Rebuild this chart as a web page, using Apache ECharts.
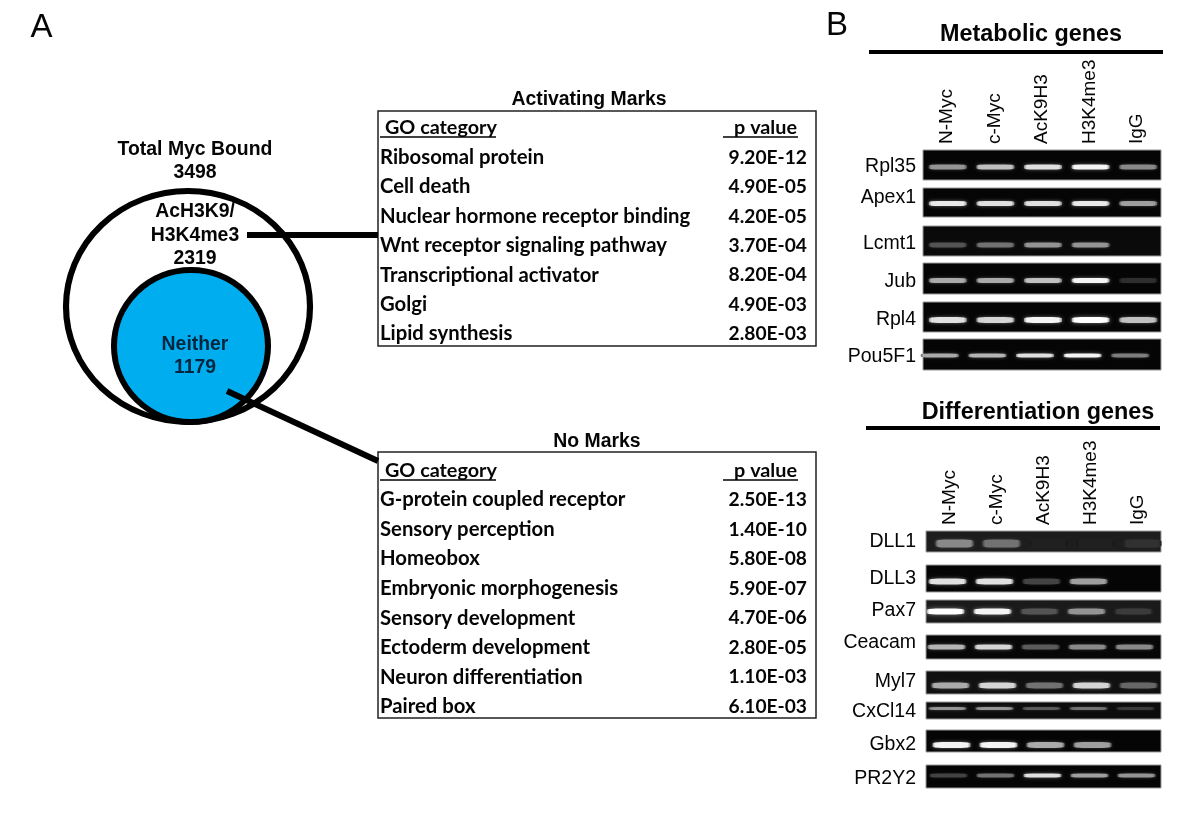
<!DOCTYPE html>
<html><head><meta charset="utf-8">
<style>html,body{margin:0;padding:0;background:#fff}#c{width:1200px;height:813px}</style>
<script src="https://cdn.jsdelivr.net/npm/echarts@6/dist/echarts.min.js"></script>
</head><body><div id="c"></div>
<script>
// ---------- data ----------
const vennTotal = ['Total Myc Bound', 3498];
const vennMarked = ['AcH3K9/', 'H3K4me3', 2319];
const vennNeither = ['Neither', 1179];

const tableHeader = ['GO category', 'p value'];
const activatingTerms = ['Ribosomal protein','Cell death','Nuclear hormone receptor binding','Wnt receptor signaling pathway','Transcriptional activator','Golgi','Lipid synthesis'];
const activatingP = ['9.20E-12','4.90E-05','4.20E-05','3.70E-04','8.20E-04','4.90E-03','2.80E-03'];
const noMarkTerms = ['G-protein coupled receptor','Sensory perception','Homeobox','Embryonic morphogenesis','Sensory development','Ectoderm development','Neuron differentiation','Paired box'];
const noMarkP = ['2.50E-13','1.40E-10','5.80E-08','5.90E-07','4.70E-06','2.80E-05','1.10E-03','6.10E-03'];

const lanes = ['N-Myc','c-Myc','AcK9H3','H3K4me3','IgG'];
// band brightness read per lane (0 = none, 1 = saturated)
const Rpl35  = [0.50,0.70,0.85,0.95,0.45];
const Apex1  = [0.90,0.85,0.85,0.90,0.55];
const Lcmt1  = [0.22,0.35,0.50,0.50,0.00];
const Jub    = [0.60,0.60,0.70,0.95,0.07];
const Rpl4   = [0.85,0.80,0.95,1.00,0.70];
const Pou5F1 = [0.60,0.65,0.85,0.95,0.40];
const DLL1   = [0.45,0.35,0.02,0.02,0.08];
const DLL3   = [0.85,0.85,0.15,0.55,0.00];
const Pax7   = [1.00,0.95,0.22,0.50,0.12];
const Ceacam = [0.65,0.80,0.25,0.45,0.45];
const Myl7   = [0.60,0.80,0.35,0.80,0.30];
const CxCl14 = [0.50,0.50,0.25,0.35,0.12];
const Gbx2   = [0.95,0.95,0.60,0.55,0.00];
const PR2Y2  = [0.15,0.35,0.85,0.55,0.50];

// ---------- layout ----------
const FONT = '"Liberation Sans", Arial, sans-serif';
const TFONT = 'Lato, "Open Sans", sans-serif';
const TXT = '#050505';
const X1 = 923, W1 = 238, X2 = 926, W2 = 235;
const blots = [
  // name, values, x, top, w, h, band dy, band dx, band h, gel colour, show lanes, label dy
  ['Rpl35', Rpl35, X1,150,W1,30, 2, 1,5,'#050505',true,  2],
  ['Apex1', Apex1, X1,188,W1,29, 1, 1,5,'#050505',false,-5],
  ['Lcmt1', Lcmt1, X1,226,W1,30, 4, 1,5,'#0a0a0a',false, 3],
  ['Jub',   Jub,   X1,263,W1,31, 2, 1,5,'#050505',false, 3],
  ['Rpl4',  Rpl4,  X1,302,W1,30, 3, 1,6,'#050505',false, 3],
  ['Pou5F1',Pou5F1,X1,339,W1,31, 1,-7,4,'#050505',false, 2],
  ['DLL1',  DLL1,  X2,531,W2,21, 2, 5,8,'#1d1d1d',true,  0],
  ['DLL3',  DLL3,  X2,565,W2,27, 3,-2,6,'#050505',false, 0],
  ['Pax7',  Pax7,  X2,600,W2,23, 0,-4,6,'#1a1a1a',false,-1],
  ['Ceacam',Ceacam,X2,635,W2,24, 0,-3,5,'#070707',false,-4],
  ['Myl7',  Myl7,  X2,671,W2,23, 3, 1,6,'#101010',false,-1],
  ['CxCl14',CxCl14,X2,702,W2,17,-2,-2,3,'#0c0c0c',false, 1],
  ['Gbx2',  Gbx2,  X2,730,W2,22, 4, 2,6,'#050505',false, 4],
  ['PR2Y2', PR2Y2, X2,765,W2,23,-1,-1,4,'#050505',false, 2]
];

const grid = [], xAxis = [], yAxis = [], series = [];

// shift a category-axis label vertically: half the line box moves the text
function labelShift(dy){
  if(!dy) return {};
  return {verticalAlign:dy>0?'top':'bottom',lineHeight:2*Math.abs(dy)};
}

// Venn sets: each set is one point at the middle of its own box
function vennSet(name,left,top,w,h,fill,z){
  grid.push({left,top,width:w,height:h,show:false,outerBoundsMode:'none'});
  const g = grid.length-1;
  xAxis.push({gridIndex:g,type:'category',data:['c'],show:false});
  yAxis.push({gridIndex:g,type:'category',data:['c'],show:false});
  series.push({type:'scatter',name,xAxisIndex:xAxis.length-1,yAxisIndex:yAxis.length-1,clip:false,z,silent:true,
    symbol:'circle',symbolSize:[w-6,h-6],data:[['c','c']],
    itemStyle:{color:fill,borderColor:'#000',borderWidth:6,opacity:1}});
}
vennSet(vennTotal[0],63,188,250,237,'#ffffff',2);
vennSet(vennNeither[0],111,267,160,158,'#00AEEF',3);

// GO tables: rows are category-axis labels
const TSIZE = 20.3, PSIZE = 19.2, HSIZE = 19.8;
function goTable(left,top,w,h,terms,pvals,dy,hdrDy){
  grid.push({left,top,width:w,height:h,show:true,borderColor:'#222',borderWidth:1.5,
    backgroundColor:'#fff',outerBoundsMode:'none'});
  const g = grid.length-1;
  xAxis.push({gridIndex:g,type:'value',show:false,min:0,max:1});
  const hdrL = {value:tableHeader[0],textStyle:Object.assign({padding:[0,0,0,5],fontSize:HSIZE},labelShift(hdrDy))};
  const hdrR = {value:tableHeader[1],textStyle:Object.assign({padding:[0,10,0,0],fontSize:HSIZE},labelShift(hdrDy))};
  yAxis.push({gridIndex:g,type:'category',inverse:true,position:'left',data:[hdrL].concat(terms),
    axisLine:{show:false},axisTick:{show:false},splitLine:{show:false},
    axisLabel:Object.assign({inside:true,margin:2,interval:0,fontFamily:TFONT,fontWeight:'bold',fontSize:TSIZE,color:TXT},labelShift(dy))});
  yAxis.push({gridIndex:g,type:'category',inverse:true,position:'right',data:[hdrR].concat(pvals),
    axisLine:{show:false},axisTick:{show:false},splitLine:{show:false},
    axisLabel:Object.assign({inside:true,margin:9,interval:0,fontFamily:TFONT,fontWeight:'bold',fontSize:PSIZE,color:TXT},labelShift(dy))});
}
goTable(378,111,438,235,activatingTerms,activatingP,2.5,1.5);
goTable(378,452,438,266,noMarkTerms,noMarkP,3.5,3.5);

// gels
function bandColor(v){
  const c = Math.round(25 + 230*Math.pow(v,0.9));
  const e = Math.round(c*0.6);
  return new echarts.graphic.LinearGradient(0,0,1,0,[
    {offset:0,color:`rgb(${e},${e},${e})`},
    {offset:0.07,color:`rgb(${c},${c},${c})`},
    {offset:0.92,color:`rgb(${c},${c},${c})`},
    {offset:1,color:`rgb(${e},${e},${e})`}]);
}
blots.forEach(b=>{
  const [gene,vals,left,top,width,height,dy,dx,bh,gel,showLanes,labelDy] = b;
  grid.push({left,top,width,height,show:true,backgroundColor:gel,borderColor:'#9a9a9a',borderWidth:1,outerBoundsMode:'none'});
  const g = grid.length-1;
  xAxis.push({gridIndex:g,type:'category',position:'top',data:lanes,
    axisLine:{show:false},axisTick:{show:false},splitLine:{show:false},
    axisLabel:{show:showLanes,rotate:-90,interval:0,margin:6,fontFamily:FONT,fontSize:19,color:TXT}});
  yAxis.push({gridIndex:g,type:'category',data:[gene],
    axisLine:{show:false},axisTick:{show:false},splitLine:{show:false},
    axisLabel:Object.assign({margin:left===X1?7:10,fontFamily:FONT,fontSize:19.5,color:TXT},labelShift(labelDy))});
  series.push({type:'scatter',name:gene,xAxisIndex:xAxis.length-1,yAxisIndex:yAxis.length-1,silent:true,clip:true,z:4,
    symbol:'roundRect',symbolOffset:[dx,dy],
    symbolSize:[38,bh],
    data:vals.map((v,i)=>({value:[lanes[i],gene],itemStyle:{
      color:bandColor(v),opacity:v===0?0:1,
      shadowBlur:2+2*v,shadowColor:`rgba(190,190,190,${(0.05+0.55*v).toFixed(2)})`}}))});
});

// ---------- annotation ----------
function text(s,x,y,size,opts){
  return {type:'text',z:100,silent:true,style:Object.assign({text:String(s),x,y:y+2,align:'center',verticalAlign:'middle',
    font:`bold ${size}px ${FONT}`,fill:TXT},(opts&&opts.style)||{})};
}
function line(x1,y1,x2,y2,w,z){return {type:'line',z:z||90,silent:true,shape:{x1,y1,x2,y2},style:{stroke:'#000',lineWidth:w}};}
const NEITHER='#03263f';
const graphic = [
  text('A',41.5,26,33,{style:{font:`33px ${FONT}`}}),
  text('B',837,24,33,{style:{font:`33px ${FONT}`}}),
  text(vennTotal[0],195,148,19.4),
  text(vennTotal[1],195,171,19.4),
  text(vennMarked[0],195,210,19.4),
  text(vennMarked[1],195,234,19.4),
  text(vennMarked[2],195,257,19.4),
  text(vennNeither[0],195,343,19.4,{style:{fill:NEITHER}}),
  text(vennNeither[1],195,366,19.4,{style:{fill:NEITHER}}),
  text('Activating Marks',589,98,19.4),
  text('No Marks',597,440,19.4),
  text('Metabolic genes',1031,33,23.4),
  text('Differentiation genes',1038,411,23.4),
  line(247,235,378,235,6),
  line(227,391,378,461,6),
  line(380,137,496,137,1.5),line(723,137,798,137,1.5),
  line(380,480,496,480,1.5),line(723,480,798,480,1.5),
  line(869,52,1163,52,4),
  line(866,428,1160,428,4)
];

const chart = echarts.init(document.getElementById('c'),null,{renderer:'canvas'});
chart.setOption({backgroundColor:'#fff',animation:false,tooltip:{show:false},grid,xAxis,yAxis,series,graphic:{elements:graphic}});
</script></body></html>
